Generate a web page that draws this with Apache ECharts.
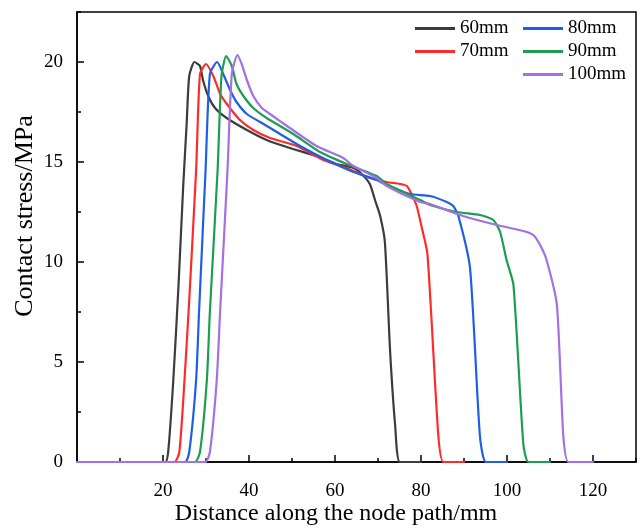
<!DOCTYPE html>
<html>
<head>
<meta charset="utf-8">
<script src="https://cdn.jsdelivr.net/npm/echarts@6/dist/echarts.min.js"></script>
<style>html,body{margin:0;padding:0;background:#fff}#c{width:640px;height:528px}</style>
</head>
<body>
<div id="c"></div>
<script>
const seriesNames = ['60mm', '70mm', '80mm', '90mm', '100mm'];
const xTicks = [20, 40, 60, 80, 100, 120];
const yTicks = [0, 5, 10, 15, 20];
const xTitle = 'Distance along the node path/mm';
const yTitle = 'Contact stress/MPa';

const x60 = [0, 20.5, 21.2, 22.4, 23.6, 24.7, 25.5, 26.1, 27.3, 28.6, 29.3, 30.5, 32.1, 34.8, 39.5, 44.1, 49.5, 55.7, 60.4, 64.3, 66.2, 68.1, 69.3, 70.5, 71.6, 72.8, 74.0, 75.1, 80];
const y60 = [0, 0, 0.5, 4.1, 8.8, 13.8, 16.9, 19.3, 20.0, 19.8, 19.1, 18.3, 17.7, 17.2, 16.6, 16.1, 15.7, 15.3, 14.9, 14.7, 14.4, 13.9, 13.1, 12.3, 11.0, 5.6, 1.8, 0, 0];

const x70 = [0, 22.6, 23.8, 25.0, 26.1, 27.7, 28.6, 30.0, 31.7, 33.3, 35.2, 37.9, 41.0, 44.9, 51.1, 57.3, 62.7, 68.1, 72.0, 75.1, 76.7, 77.8, 79.0, 80.1, 81.5, 84.0, 85.2, 90];
const y70 = [0, 0, 0.5, 4.1, 8.1, 14.6, 19.4, 19.9, 19.3, 18.4, 17.8, 17.1, 16.6, 16.2, 15.8, 15.1, 14.7, 14.2, 14.0, 13.9, 13.8, 13.4, 12.8, 11.8, 10.4, 1.4, 0, 0];

const x80 = [0, 25.1, 26.1, 27.7, 28.4, 29.9, 30.9, 32.6, 34.0, 35.6, 37.1, 39.5, 42.6, 45.7, 51.9, 58.1, 64.3, 69.7, 72.0, 77.4, 82.1, 86.0, 87.5, 88.7, 91.4, 93.7, 95.1, 100];
const y80 = [0, 0, 0.5, 4.1, 7.6, 14.6, 19.4, 20.0, 19.4, 18.6, 18.0, 17.4, 17.0, 16.6, 15.8, 15.1, 14.5, 14.1, 13.85, 13.4, 13.3, 13.0, 12.8, 12.3, 9.7, 1.3, 0, 0];

const x90 = [0, 27.4, 28.6, 30.2, 30.9, 32.7, 33.6, 34.7, 36.0, 37.1, 38.7, 41.0, 44.1, 50.3, 56.5, 62.7, 69.7, 72.0, 79.8, 82.1, 88.3, 93.7, 96.8, 98.4, 99.9, 101.5, 103.8, 105.0, 110];
const y90 = [0, 0, 0.5, 4.1, 7.5, 14.6, 19.3, 20.3, 19.8, 18.9, 18.3, 17.7, 17.2, 16.4, 15.5, 14.9, 14.3, 13.9, 13.1, 12.85, 12.5, 12.35, 12.1, 11.5, 10.1, 8.85, 0.9, 0, 0];

const x100 = [0, 29.8, 30.9, 32.5, 33.3, 35.0, 36.0, 37.3, 38.3, 39.5, 41.0, 43.0, 44.9, 49.5, 55.7, 61.9, 64.3, 69.7, 72.0, 79.8, 82.1, 89.8, 97.6, 103.8, 106.1, 107.7, 109.2, 111.6, 113.1, 114.3, 120];
const y100 = [0, 0, 0.5, 4.1, 7.6, 14.6, 19.4, 20.35, 19.9, 19.1, 18.3, 17.7, 17.4, 16.7, 15.8, 15.2, 14.8, 14.2, 13.8, 13.0, 12.9, 12.3, 11.85, 11.55, 11.35, 10.85, 10.1, 7.85, 1.3, 0, 0];

const xs = [x60, x70, x80, x90, x100];
const ys = [y60, y70, y80, y90, y100];
const colors = ['#3c3c3c', '#ff2b2b', '#1f5fe6', '#1c9e4e', '#a66fe2'];

const FONT = '"Liberation Serif", "Times New Roman", serif';
const chart = echarts.init(document.getElementById('c'), null, {renderer: 'canvas'});

const series = seriesNames.map((name, k) => ({
  name: name,
  type: 'line',
  xAxisIndex: 0,
  yAxisIndex: 0,
  data: xs[k].map((x, i) => [x, ys[k][i]]),
  symbol: 'none',
  smooth: 0.2,
  lineStyle: {color: colors[k], width: 2.2, join: 'round', cap: 'round'},
  itemStyle: {color: colors[k]},
  z: 2 + k
}));

const legendCommon = {
  orient: 'vertical',
  top: 14,
  itemWidth: 40,
  itemHeight: 3,
  itemGap: 4,
  icon: 'rect',
  textStyle: {fontFamily: FONT, fontSize: 19, color: '#000', lineHeight: 19},
};

chart.setOption({
  animation: false,
  backgroundColor: '#fff',
  grid: {left: 77, right: 4, top: 12, bottom: 66, show: true, borderColor: '#000', borderWidth: 1.5, containLabel: false},
  legend: [
    Object.assign({}, legendCommon, {left: 410, data: ['60mm', '70mm']}),
    Object.assign({}, legendCommon, {left: 518, data: ['80mm', '90mm', '100mm']})
  ],
  graphic: [
    {type: 'text', x: 336, y: 514, style: {text: xTitle, font: '24px ' + FONT, fill: '#000', textAlign: 'center', textVerticalAlign: 'middle'}},
    {type: 'text', x: 25, y: 216, rotation: Math.PI / 2, style: {text: yTitle, font: '26px ' + FONT, fill: '#000', textAlign: 'center', textVerticalAlign: 'middle'}}
  ],
  xAxis: [
    {
      type: 'value', min: 0, max: 130, interval: 20,
      axisLine: {show: true, lineStyle: {color: '#000', width: 1.5}},
      axisTick: {show: true, inside: true, length: 7, lineStyle: {color: '#000', width: 1.5}},
      axisLabel: {
        fontFamily: FONT, fontSize: 19, color: '#000', margin: 20,
        showMinLabel: false, showMaxLabel: false,
        formatter: v => (xTicks.indexOf(v) >= 0 ? String(v) : '')
      },
      splitLine: {show: false}
    },
    {
      type: 'value', min: 0, max: 130, interval: 10, position: 'bottom', offset: 0,
      axisLine: {show: false},
      axisTick: {show: true, inside: true, length: 4, lineStyle: {color: '#000', width: 1.5}},
      axisLabel: {show: false},
      splitLine: {show: false}
    }
  ],
  yAxis: [
    {
      type: 'value', min: 0, max: 22.5, interval: 5,
      axisLine: {show: true, lineStyle: {color: '#000', width: 1.5}},
      axisTick: {show: true, inside: true, length: 7, lineStyle: {color: '#000', width: 1.5}},
      axisLabel: {
        fontFamily: FONT, fontSize: 19, color: '#000', margin: 14,
        showMaxLabel: false,
        formatter: v => (yTicks.indexOf(v) >= 0 ? String(v) : '')
      },
      splitLine: {show: false}
    },
    {
      type: 'value', min: 0, max: 22.5, interval: 2.5, position: 'left', offset: 0,
      axisLine: {show: false},
      axisTick: {show: true, inside: true, length: 4, lineStyle: {color: '#000', width: 1.5}},
      axisLabel: {show: false},
      splitLine: {show: false}
    }
  ],
  series: series
});
</script>
</body>
</html>
